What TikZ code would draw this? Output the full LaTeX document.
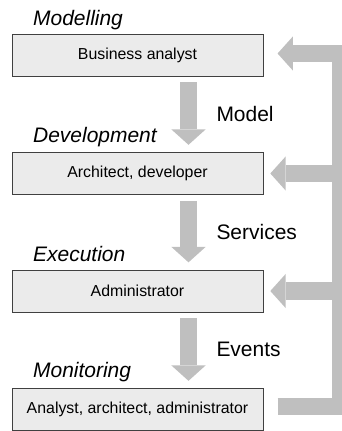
\documentclass[tikz,border=0pt]{standalone}
\usepackage{fontspec}
\setmainfont{Liberation Sans}
\usetikzlibrary{arrows.meta}
\usetikzlibrary{positioning}

\begin{document}
\begin{tikzpicture}[
    box/.style={draw=black!75, fill=black!8, line width=0.6pt, inner sep=0pt,
      minimum width=5.89cm, minimum height=0.985cm, font=\fontsize{10.6}{12}\selectfont},
    phase/.style={anchor=base west, inner sep=0pt, font=\fontsize{14}{16}\selectfont\itshape},
    flowlabel/.style={inner sep=0pt, font=\fontsize{14}{16}\selectfont},
    flow/.style={draw=black!25, line width=0.4cm,
      -{Triangle[width=0.8cm, length=0.36cm, line width=0pt]}},
    feedback/.style={flow, line join=miter}
  ]
    \useasboundingbox (0,0) rectangle (8,-10.111);

    \node[box] (mod) at (3.226,-1.290) {Business analyst};
    \node[box] (dev) at (3.226,-4.070) {Architect, developer};
    \node[box] (exe) at (3.226,-6.827) {Administrator};
    \node[box] (mon) at (3.226,-9.607) {Analyst, architect, administrator};

    \node[phase] at ([xshift=0.5cm,yshift=0.19cm]mod.north west) {Modelling};
    \node[phase] at ([xshift=0.5cm,yshift=0.22cm]dev.north west) {Development};
    \node[phase] at ([xshift=0.5cm,yshift=0.2cm]exe.north west) {Execution};
    \node[phase] at ([xshift=0.5cm,yshift=0.24cm]mon.north west) {Monitoring};

    \draw[flow] ([xshift=1.196cm,yshift=-0.14cm]mod.south) -- ([xshift=1.196cm,yshift=0.17cm]dev.north)
      node[flowlabel, midway, right=0.457cm] {Model};
    \draw[flow] ([xshift=1.196cm,yshift=-0.14cm]dev.south) -- ([xshift=1.196cm,yshift=0.17cm]exe.north)
      node[flowlabel, midway, right=0.457cm] {Services};
    \draw[flow] ([xshift=1.196cm,yshift=-0.14cm]exe.south) -- ([xshift=1.196cm,yshift=0.17cm]mon.north)
      node[flowlabel, midway, right=0.457cm] {Events};

    \coordinate (rail) at (7.99,-1.255);
    \draw[feedback] ([xshift=0.33cm,yshift=0.06cm]mon.east) -| (rail) -- ([xshift=0.33cm]mod.east |- rail);
    \draw[feedback] (rail |- dev.east) -- ([xshift=0.16cm]dev.east);
    \draw[feedback] (rail |- exe.east) -- ([xshift=0.16cm]exe.east);
  \end{tikzpicture}
\end{document}
